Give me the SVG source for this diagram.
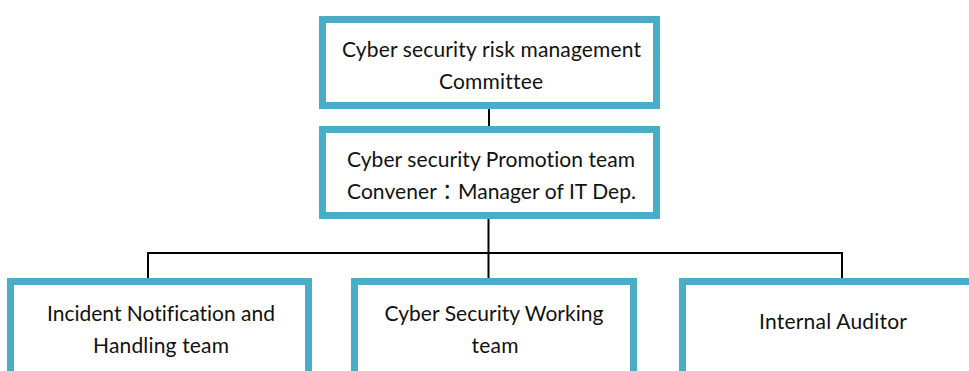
<svg xmlns="http://www.w3.org/2000/svg" width="969" height="371" viewBox="0 0 969 371">
<style>
.box{fill:#fff;stroke:#4BACC6;stroke-width:7}
.lbl{font-family:"Lato","Noto Sans CJK TC",sans-serif;font-size:21px;fill:#111;text-anchor:middle;font-variant-ligatures:none;font-feature-settings:"liga" 0}
.conn{stroke:#000;stroke-width:2;fill:none}
</style>
<rect width="969" height="371" fill="#fff"/>
<g id="connectors">
<line class="conn" x1="489" y1="109" x2="489" y2="126"/>
<line class="conn" x1="488.5" y1="219" x2="488.5" y2="279"/>
<polyline class="conn" points="148,279 148,253 842,253 842,279"/>
</g>
<g id="committee">
<rect class="box" x="322.5" y="19.5" width="334" height="86"/>
<text class="lbl" x="491.5" y="57" textLength="299">Cyber security risk management</text>
<text class="lbl" x="491" y="89" textLength="104">Committee</text>
</g>
<g id="promotion">
<rect class="box" x="322.5" y="129.5" width="334" height="86"/>
<text class="lbl" x="491" y="167" textLength="288">Cyber security Promotion team</text>
<text class="lbl" x="491.5" y="199" textLength="289">Convener：Manager of IT Dep.</text>
</g>
<g id="incident">
<rect class="box" x="10.5" y="281.5" width="298" height="120"/>
<text class="lbl" x="161" y="321" textLength="228">Incident Notification and</text>
<text class="lbl" x="161" y="353" textLength="136">Handling team</text>
</g>
<g id="working">
<rect class="box" x="354.5" y="281.5" width="279" height="120"/>
<text class="lbl" x="494" y="321" textLength="219">Cyber Security Working</text>
<text class="lbl" x="495" y="353" textLength="47">team</text>
</g>
<g id="auditor">
<rect class="box" x="682.5" y="281.5" width="302" height="120"/>
<text class="lbl" x="833" y="329" textLength="148">Internal Auditor</text>
</g>
</svg>
